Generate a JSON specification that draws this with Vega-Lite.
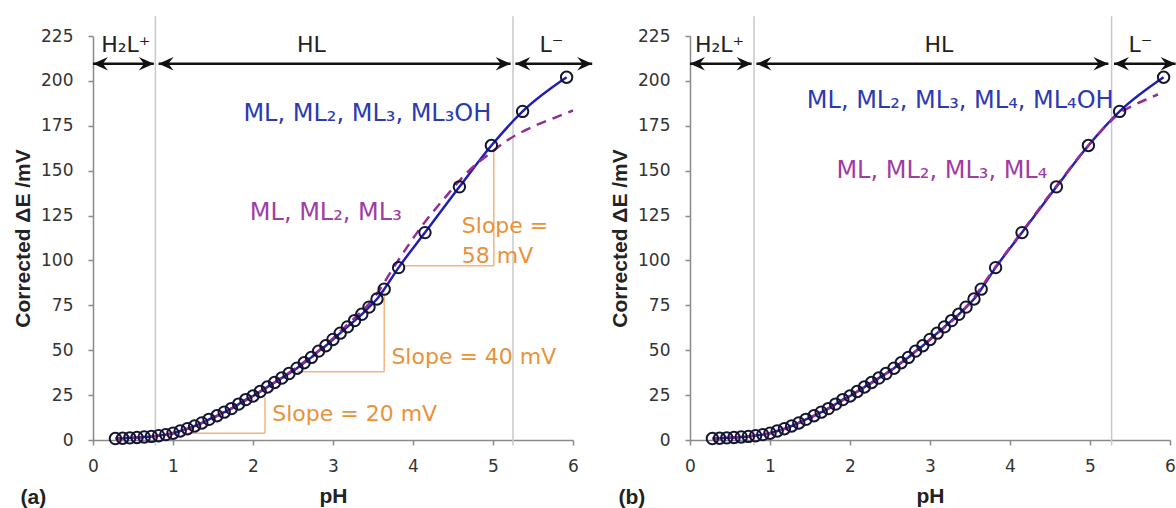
{
  "$schema": "https://vega.github.io/schema/vega-lite/v6.json",
  "padding": {"left": 12, "top": 15, "right": 0, "bottom": 0},
  "spacing": 15,
  "config": {
    "view": {"stroke": null},
    "font": "DejaVu Sans",
    "axis": {"domainColor": "#8a8a8a", "domainWidth": 1.5, "tickColor": "#8a8a8a", "tickWidth": 1.5, "tickSize": 5, "grid": false, "labelFont": "DejaVu Sans", "labelFontSize": 17, "labelColor": "#333333", "labelFlush": false, "titleFont": "Liberation Sans", "titleFontSize": 21, "titleFontWeight": "bold", "titleColor": "#222222"},
    "axisX": {"labelPadding": 13, "titlePadding": 11},
    "axisY": {"labelPadding": 15, "titlePadding": 7}
  },
  "datasets": {
    "points": [
      {"pH":0.28,"mV":0.8},{"pH":0.37,"mV":1.0},{"pH":0.46,"mV":1.2},{"pH":0.55,"mV":1.4},{"pH":0.64,"mV":1.7},{"pH":0.73,"mV":2.0},{"pH":0.82,"mV":2.4},{"pH":0.91,"mV":3.0},{"pH":1.0,"mV":3.8},{"pH":1.09,"mV":5.0},{"pH":1.18,"mV":6.3},{"pH":1.27,"mV":7.8},{"pH":1.36,"mV":9.5},{"pH":1.45,"mV":11.5},{"pH":1.55,"mV":13.5},{"pH":1.64,"mV":15.5},{"pH":1.73,"mV":17.5},{"pH":1.82,"mV":20.0},{"pH":1.91,"mV":22.5},{"pH":2.0,"mV":24.5},{"pH":2.09,"mV":27.0},{"pH":2.18,"mV":29.5},{"pH":2.27,"mV":32.0},{"pH":2.36,"mV":34.5},{"pH":2.45,"mV":37.0},{"pH":2.55,"mV":40.0},{"pH":2.64,"mV":43.0},{"pH":2.73,"mV":46.0},{"pH":2.82,"mV":49.5},{"pH":2.91,"mV":52.5},{"pH":3.0,"mV":56.0},{"pH":3.09,"mV":59.5},{"pH":3.18,"mV":63.0},{"pH":3.27,"mV":66.5},{"pH":3.36,"mV":70.0},{"pH":3.45,"mV":74.0},{"pH":3.55,"mV":78.5},{"pH":3.64,"mV":84.0},{"pH":3.82,"mV":96.0},{"pH":4.15,"mV":115.5},{"pH":4.58,"mV":141.0},{"pH":4.98,"mV":164.0},{"pH":5.37,"mV":183.0},{"pH":5.92,"mV":202.0}
    ],
    "dashA": [
      {"pH":0.28,"mV":0.8},{"pH":0.8,"mV":2.3},{"pH":1.2,"mV":6.5},{"pH":1.6,"mV":14.5},{"pH":2.0,"mV":24.5},{"pH":2.4,"mV":36.0},{"pH":2.8,"mV":49.0},{"pH":3.2,"mV":65.0},{"pH":3.5,"mV":78.5},{"pH":3.8,"mV":99.0},{"pH":4.1,"mV":118.5},{"pH":4.4,"mV":135.0},{"pH":4.7,"mV":150.0},{"pH":5.0,"mV":161.0},{"pH":5.2,"mV":167.5},{"pH":5.5,"mV":174.5},{"pH":5.8,"mV":180.0},{"pH":6.0,"mV":183.5}
    ],
    "dashB": [
      {"pH":0.28,"mV":0.8},{"pH":1.0,"mV":3.8},{"pH":1.5,"mV":12.5},{"pH":2.0,"mV":24.5},{"pH":2.5,"mV":38.5},{"pH":3.0,"mV":56.0},{"pH":3.5,"mV":76.5},{"pH":3.82,"mV":96.5},{"pH":4.15,"mV":116.0},{"pH":4.58,"mV":141.5},{"pH":4.98,"mV":164.0},{"pH":5.2,"mV":175.0},{"pH":5.37,"mV":182.0},{"pH":5.55,"mV":186.5},{"pH":5.72,"mV":190.0},{"pH":5.85,"mV":192.5}
    ],
    "sepA": [{"pH":0.78,"mV":-3,"mV2":236},{"pH":5.25,"mV":-3,"mV2":236}],
    "sepB": [{"pH":0.8,"mV":-3,"mV2":236},{"pH":5.27,"mV":-3,"mV2":236}],
    "arrowsA": [{"pH":0.0,"pH2":0.76,"mV":209.5},{"pH":0.82,"pH2":5.22,"mV":209.5},{"pH":5.28,"pH2":6.24,"mV":209.5}],
    "arrowsB": [{"pH":0.0,"pH2":0.77,"mV":209.5},{"pH":0.83,"pH2":5.23,"mV":209.5},{"pH":5.3,"pH2":6.07,"mV":209.5}],
    "regionA": [{"pH":0.41,"mV":220,"label":"H₂L⁺"},{"pH":2.73,"mV":220,"label":"HL"},{"pH":5.73,"mV":220,"label":"L⁻"}],
    "regionB": [{"pH":0.37,"mV":220,"label":"H₂L⁺"},{"pH":3.11,"mV":220,"label":"HL"},{"pH":5.63,"mV":220,"label":"L⁻"}],
    "slopeLines": [
      {"pH":1.15,"pH2":2.15,"mV":3.8,"mV2":3.8},{"pH":2.15,"pH2":2.15,"mV":3.8,"mV2":23.8},
      {"pH":2.55,"pH2":3.64,"mV":38,"mV2":38},{"pH":3.64,"pH2":3.64,"mV":38,"mV2":81},
      {"pH":3.89,"pH2":5.01,"mV":97,"mV2":97},{"pH":5.01,"pH2":5.01,"mV":97,"mV2":161}
    ],
    "slopeText": [
      {"pH":2.24,"mV":14.5,"label":"Slope = 20 mV"},
      {"pH":3.73,"mV":46,"label":"Slope = 40 mV"},
      {"pH":4.61,"mV":119,"label":"Slope ="},
      {"pH":4.61,"mV":102.5,"label":"58 mV"}
    ],
    "blueA": [{"pH":1.88,"mV":181.6,"label":"ML, ML₂, ML₃, ML₃OH"}],
    "purpleA": [{"pH":1.96,"mV":126.4,"label":"ML, ML₂, ML₃"}],
    "blueB": [{"pH":1.46,"mV":188.8,"label":"ML, ML₂, ML₃, ML₄, ML₄OH"}],
    "purpleB": [{"pH":1.83,"mV":149.8,"label":"ML, ML₂, ML₃, ML₄"}]
  },
  "hconcat": [
    {
      "width": 480,
      "height": 404,
      "title": {"text": "(a)", "orient": "bottom", "anchor": "start", "frame": "bounds", "fontSize": 21, "fontWeight": "bold", "color": "#222222", "offset": -19, "dx": 8, "font": "Liberation Sans"},
      "encoding": {
        "x": {"field": "pH", "type": "quantitative", "scale": {"domain": [0, 6], "nice": false, "zero": false}, "axis": {"title": "pH", "values": [0,1,2,3,4,5,6], "format": "d"}},
        "y": {"field": "mV", "type": "quantitative", "scale": {"domain": [0, 225], "nice": false}, "axis": {"title": "Corrected ΔE /mV", "values": [0,25,50,75,100,125,150,175,200,225]}}
      },
      "layer": [
        {"data": {"name": "sepA"}, "mark": {"type": "rule", "color": "#c8c8c8", "strokeWidth": 1.5, "clip": false}, "encoding": {"y2": {"field": "mV2"}}},
        {"data": {"name": "slopeLines"}, "mark": {"type": "rule", "color": "#f3b47e", "strokeWidth": 1.5}, "encoding": {"x2": {"field": "pH2"}, "y2": {"field": "mV2"}}},
        {"data": {"name": "points"}, "mark": {"type": "line", "color": "#1f1fb8", "strokeWidth": 2.5, "interpolate": "monotone"}},
        {"data": {"name": "dashA"}, "mark": {"type": "line", "color": "#932d93", "strokeWidth": 2.5, "strokeDash": [10, 7], "interpolate": "monotone", "clip": false}},
        {"data": {"name": "points"}, "mark": {"type": "point", "shape": "circle", "filled": false, "stroke": "#141433", "strokeWidth": 2, "size": 130, "opacity": 1}},
        {"data": {"name": "arrowsA"}, "mark": {"type": "rule", "color": "#111111", "strokeWidth": 2.5, "clip": false}, "encoding": {"x2": {"field": "pH2"}}},
        {"data": {"name": "arrowsA"}, "mark": {"type": "point", "shape": "M 0 0 L 1 -0.45 L 0.65 0 L 1 0.45 Z", "filled": true, "color": "#111111", "size": 900, "opacity": 1, "clip": false}},
        {"data": {"name": "arrowsA"}, "mark": {"type": "point", "shape": "M 0 0 L -1 -0.45 L -0.65 0 L -1 0.45 Z", "filled": true, "color": "#111111", "size": 900, "opacity": 1, "clip": false}, "encoding": {"x": {"field": "pH2", "type": "quantitative", "title": "pH"}}},
        {"data": {"name": "regionA"}, "mark": {"type": "text", "fontSize": 22, "color": "#222222", "align": "center", "baseline": "middle"}, "encoding": {"text": {"field": "label"}}},
        {"data": {"name": "slopeText"}, "mark": {"type": "text", "fontSize": 22, "color": "#e8923a", "align": "left", "baseline": "middle"}, "encoding": {"text": {"field": "label"}}},
        {"data": {"name": "blueA"}, "mark": {"type": "text", "fontSize": 24, "color": "#2c3ab2", "align": "left", "baseline": "middle"}, "encoding": {"text": {"field": "label"}}},
        {"data": {"name": "purpleA"}, "mark": {"type": "text", "fontSize": 24, "color": "#a03ca6", "align": "left", "baseline": "middle"}, "encoding": {"text": {"field": "label"}}}
      ]
    },
    {
      "width": 480,
      "height": 404,
      "title": {"text": "(b)", "orient": "bottom", "anchor": "start", "frame": "bounds", "fontSize": 21, "fontWeight": "bold", "color": "#222222", "offset": -19, "dx": 9, "font": "Liberation Sans"},
      "encoding": {
        "x": {"field": "pH", "type": "quantitative", "scale": {"domain": [0, 6], "nice": false, "zero": false}, "axis": {"title": "pH", "values": [0,1,2,3,4,5,6], "format": "d"}},
        "y": {"field": "mV", "type": "quantitative", "scale": {"domain": [0, 225], "nice": false}, "axis": {"title": "Corrected ΔE /mV", "values": [0,25,50,75,100,125,150,175,200,225]}}
      },
      "layer": [
        {"data": {"name": "sepB"}, "mark": {"type": "rule", "color": "#c8c8c8", "strokeWidth": 1.5, "clip": false}, "encoding": {"y2": {"field": "mV2"}}},
        {"data": {"name": "points"}, "mark": {"type": "line", "color": "#1f1fb8", "strokeWidth": 2.5, "interpolate": "monotone"}},
        {"data": {"name": "dashB"}, "mark": {"type": "line", "color": "#932d93", "strokeWidth": 2.5, "strokeDash": [10, 7], "interpolate": "monotone"}},
        {"data": {"name": "points"}, "mark": {"type": "point", "shape": "circle", "filled": false, "stroke": "#141433", "strokeWidth": 2, "size": 130, "opacity": 1}},
        {"data": {"name": "arrowsB"}, "mark": {"type": "rule", "color": "#111111", "strokeWidth": 2.5, "clip": false}, "encoding": {"x2": {"field": "pH2"}}},
        {"data": {"name": "arrowsB"}, "mark": {"type": "point", "shape": "M 0 0 L 1 -0.45 L 0.65 0 L 1 0.45 Z", "filled": true, "color": "#111111", "size": 900, "opacity": 1, "clip": false}},
        {"data": {"name": "arrowsB"}, "mark": {"type": "point", "shape": "M 0 0 L -1 -0.45 L -0.65 0 L -1 0.45 Z", "filled": true, "color": "#111111", "size": 900, "opacity": 1, "clip": false}, "encoding": {"x": {"field": "pH2", "type": "quantitative", "title": "pH"}}},
        {"data": {"name": "regionB"}, "mark": {"type": "text", "fontSize": 22, "color": "#222222", "align": "center", "baseline": "middle"}, "encoding": {"text": {"field": "label"}}},
        {"data": {"name": "blueB"}, "mark": {"type": "text", "fontSize": 24, "color": "#2c3ab2", "align": "left", "baseline": "middle"}, "encoding": {"text": {"field": "label"}}},
        {"data": {"name": "purpleB"}, "mark": {"type": "text", "fontSize": 24, "color": "#a03ca6", "align": "left", "baseline": "middle"}, "encoding": {"text": {"field": "label"}}}
      ]
    }
  ]
}
